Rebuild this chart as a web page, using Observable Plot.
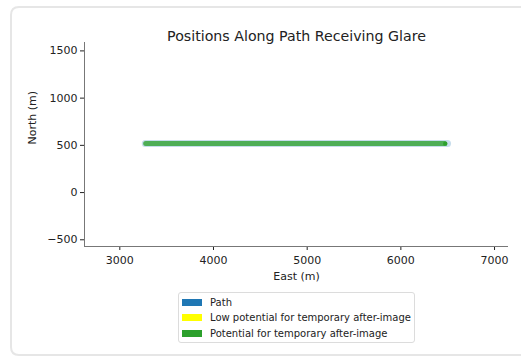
<!DOCTYPE html>
<html>
<head>
<meta charset="utf-8">
<script src="https://cdn.jsdelivr.net/npm/d3@7"></script>
<script src="https://cdn.jsdelivr.net/npm/@observablehq/plot@0.6"></script>
<style>
  html, body { margin: 0; padding: 0; background: #fff; overflow: hidden; }
  body { width: 521px; height: 358px; position: relative; font-family: "DejaVu Sans", sans-serif; }
  #frame { position: absolute; left: 0; top: 0; }
  #chart { position: absolute; left: 0; top: 0; }
  #legend { position: absolute; left: 178px; top: 292px; width: 237px; height: 51px; border: 1px solid #dcdcdc; border-radius: 3px; box-sizing: border-box; background: #fff; font-size: 10px; color: #222; }
  .row { position: absolute; left: 3px; height: 12px; display: flex; align-items: center; white-space: nowrap; }
  .sw { width: 20px; height: 7px; margin-right: 8px; }
</style>
</head>
<body>
<svg id="frame" width="521" height="358"><path d="M521,7 H19 Q11,7 11,15 V347 Q11,355 19,355 H521" fill="none" stroke="#e6e6e6" stroke-width="2"/></svg>
<div id="chart"></div>
<div id="legend"></div>
<script>
// Data
const title = "Positions Along Path Receiving Glare";
const xLabel = "East (m)";
const yLabel = "North (m)";
const xTicks = [3000, 4000, 5000, 6000, 7000];
const yTicks = [-500, 0, 500, 1000, 1500];
const xDomain = [2623, 7149];
const yDomain = [-571, 1589];

const pathEast = [3272, 6498];
const pathNorth = [520, 520];
const glareEast = [3276, 6466];
const glareNorth = [520, 520];
const glareEndEast = [6474];
const glareEndNorth = [518];

const legendLabels = ["Path", "Low potential for temporary after-image", "Potential for temporary after-image"];
const legendColors = ["#1f77b4", "#ffff00", "#2ca02c"];

const pathData = pathEast.map((e, i) => ({east: e, north: pathNorth[i]}));
const glareData = glareEast.map((e, i) => ({east: e, north: glareNorth[i]}));
const glareEnd = glareEndEast.map((e, i) => ({east: e, north: glareEndNorth[i]}));

const plot = Plot.plot({
  width: 521,
  height: 290,
  marginLeft: 84,
  marginRight: 13,
  marginTop: 42,
  marginBottom: 44,
  style: { fontFamily: "DejaVu Sans", fontSize: "11px", color: "#222", background: "transparent", overflow: "visible" },
  x: { domain: xDomain, ticks: xTicks, tickSize: 4, tickPadding: 6, label: null, tickFormat: d => String(d) },
  y: { domain: yDomain, ticks: yTicks, tickSize: 4, tickPadding: 3, label: null, tickFormat: d => d < 0 ? "\u2212" + Math.abs(d) : String(d) },
  marks: [
    Plot.line(pathData, { x: "east", y: "north", stroke: "#1f77b4", strokeOpacity: 0.25, strokeWidth: 7, strokeLinecap: "round" }),
    Plot.line(glareData, { x: "east", y: "north", stroke: "#2ca02c", strokeOpacity: 0.78, strokeWidth: 5, strokeLinecap: "round" }),
    Plot.dot(glareEnd, { x: "east", y: "north", r: 2.2, fill: "#2ca02c" }),
    Plot.ruleX([xDomain[0]], { stroke: "#777", strokeWidth: 1 }),
    Plot.ruleY([yDomain[0]], { stroke: "#777", strokeWidth: 1 }),
    Plot.text([title], { frameAnchor: "top", dy: -12, fontSize: 14.2, fill: "#222" }),
    Plot.text([xLabel], { frameAnchor: "bottom", dy: 33, fontSize: 11, fill: "#222" }),
    Plot.text([yLabel], { frameAnchor: "left", dx: -52, rotate: -90, fontSize: 11, fill: "#222" })
  ]
});
document.getElementById("chart").appendChild(plot);

const legend = document.getElementById("legend");
legendLabels.forEach((lab, i) => {
  const row = document.createElement("div");
  row.className = "row";
  row.style.top = (3 + i * 15.5) + "px";
  const sw = document.createElement("div");
  sw.className = "sw";
  sw.style.background = legendColors[i];
  const t = document.createElement("span");
  t.textContent = lab;
  row.appendChild(sw);
  row.appendChild(t);
  legend.appendChild(row);
});
</script>
</body>
</html>
